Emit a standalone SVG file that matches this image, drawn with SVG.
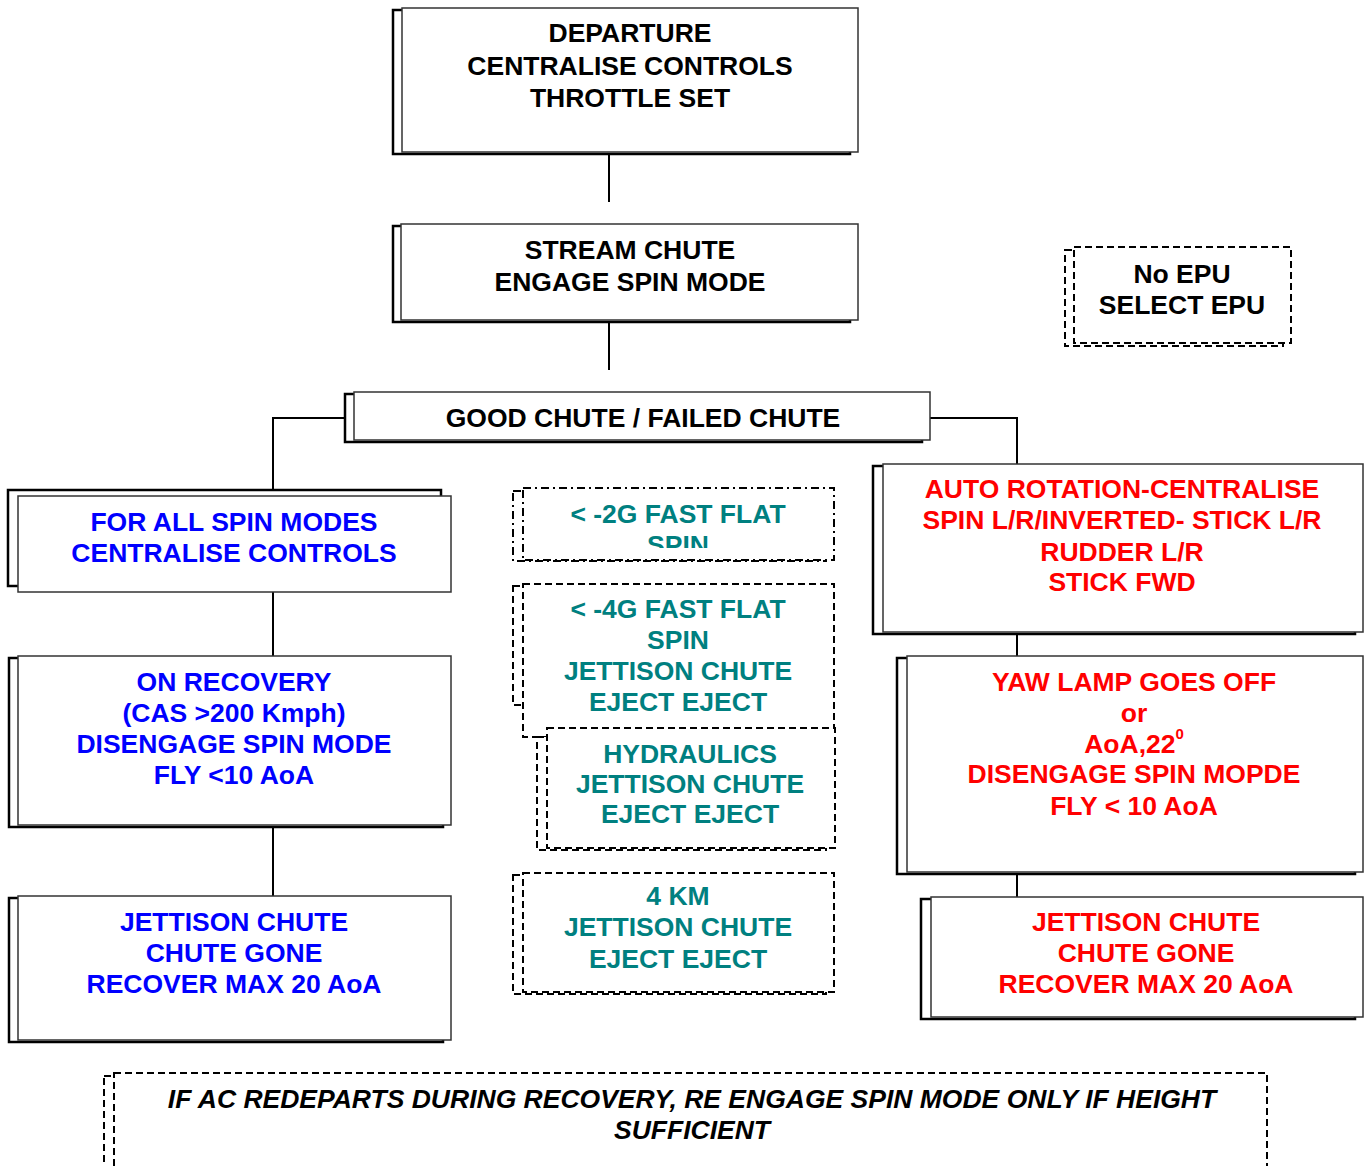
<svg xmlns="http://www.w3.org/2000/svg" width="1370" height="1166" viewBox="0 0 1370 1166">
<style>
text{font-family:"Liberation Sans",Arial,sans-serif;font-weight:bold;font-size:26.5px;text-anchor:middle}
.k{fill:#000}.b{fill:#0000FF}.r{fill:#FF0000}.t{fill:#008080}
.bk{fill:#fff;stroke:#000;stroke-width:2.5}
.fr{fill:#fff;stroke:#333;stroke-width:1.5}
.db{fill:#fff;stroke:#000;stroke-width:2;stroke-dasharray:7,4}
.dd{fill:#fff;stroke:#000;stroke-width:2;stroke-dasharray:8,4,2,4}
.ln{fill:none;stroke:#000;stroke-width:2}
</style>
<defs><clipPath id="c2g"><rect x="520" y="488" width="320" height="60"/></clipPath></defs>
<rect width="1370" height="1166" fill="#fff"/>
<g id="connectors">
<path class="ln" d="M609 154V202M609 322V370M345 418H273V490M930 418H1017V464M273 592V656M273 827V896M1017 634V656M1017 874V897"/>
</g>
<g id="departure">
<rect class="bk" x="393" y="10" width="457" height="144"/>
<rect class="fr" x="402" y="8" width="456" height="144"/>
<text class="k" x="630" y="42">DEPARTURE</text>
<text class="k" x="630" y="75">CENTRALISE CONTROLS</text>
<text class="k" x="630" y="107">THROTTLE SET</text>
</g>
<g id="stream">
<rect class="bk" x="393" y="226" width="457" height="96"/>
<rect class="fr" x="401" y="224" width="457" height="96"/>
<text class="k" x="630" y="259">STREAM CHUTE</text>
<text class="k" x="630" y="291">ENGAGE SPIN MODE</text>
</g>
<g id="noepu">
<rect class="db" x="1065" y="250" width="218" height="96"/>
<rect class="db" x="1074" y="247" width="217" height="96"/>
<text class="k" x="1182" y="283">No EPU</text>
<text class="k" x="1182" y="314">SELECT EPU</text>
</g>
<g id="good">
<rect class="bk" x="345" y="394" width="577" height="48"/>
<rect class="fr" x="354" y="392" width="576" height="48"/>
<text class="k" x="643" y="427">GOOD CHUTE / FAILED CHUTE</text>
</g>
<g id="forall">
<rect class="bk" x="8" y="490" width="433" height="96"/>
<rect class="fr" x="18" y="496" width="433" height="96"/>
<text class="b" x="234" y="531">FOR ALL SPIN MODES</text>
<text class="b" x="234" y="562">CENTRALISE CONTROLS</text>
</g>
<g id="onrecovery">
<rect class="bk" x="9" y="658" width="434" height="169"/>
<rect class="fr" x="18" y="656" width="433" height="169"/>
<text class="b" x="234" y="691">ON RECOVERY</text>
<text class="b" x="234" y="722">(CAS &gt;200 Kmph)</text>
<text class="b" x="234" y="753">DISENGAGE SPIN MODE</text>
<text class="b" x="234" y="784">FLY &lt;10 AoA</text>
</g>
<g id="jettblue">
<rect class="bk" x="9" y="898" width="434" height="144"/>
<rect class="fr" x="18" y="896" width="433" height="144"/>
<text class="b" x="234" y="931">JETTISON CHUTE</text>
<text class="b" x="234" y="962">CHUTE GONE</text>
<text class="b" x="234" y="993">RECOVER MAX 20 AoA</text>
</g>
<g id="g2">
<rect class="dd" x="513" y="491" width="313" height="70"/>
<rect class="dd" x="523" y="488" width="311" height="72"/>
<g clip-path="url(#c2g)">
<text class="t" x="678" y="523">&lt; -2G FAST FLAT</text>
<text class="t" x="678" y="554">SPIN</text>
</g>
</g>
<g id="g4">
<rect class="db" x="513" y="586" width="313" height="119"/>
<rect class="db" x="523" y="584" width="311" height="153"/>
<text class="t" x="678" y="618">&lt; -4G FAST FLAT</text>
<text class="t" x="678" y="649">SPIN</text>
<text class="t" x="678" y="680">JETTISON CHUTE</text>
<text class="t" x="678" y="711">EJECT EJECT</text>
</g>
<g id="hydraulics">
<rect class="db" x="537" y="737" width="289" height="113"/>
<rect class="db" x="547" y="728" width="288" height="120"/>
<text class="t" x="690" y="763">HYDRAULICS</text>
<text class="t" x="690" y="793">JETTISON CHUTE</text>
<text class="t" x="690" y="823">EJECT EJECT</text>
</g>
<g id="km4">
<rect class="db" x="513" y="875" width="313" height="119"/>
<rect class="db" x="523" y="873" width="311" height="119"/>
<text class="t" x="678" y="905">4 KM</text>
<text class="t" x="678" y="936">JETTISON CHUTE</text>
<text class="t" x="678" y="968">EJECT EJECT</text>
</g>
<g id="auto">
<rect class="bk" x="873" y="466" width="482" height="168"/>
<rect class="fr" x="883" y="464" width="480" height="168"/>
<text class="r" x="1122" y="498">AUTO ROTATION-CENTRALISE</text>
<text class="r" x="1122" y="529">SPIN L/R/INVERTED- STICK L/R</text>
<text class="r" x="1122" y="561">RUDDER L/R</text>
<text class="r" x="1122" y="591">STICK FWD</text>
</g>
<g id="yaw">
<rect class="bk" x="897" y="658" width="458" height="216"/>
<rect class="fr" x="907" y="656" width="456" height="216"/>
<text class="r" x="1134" y="691">YAW LAMP GOES OFF</text>
<text class="r" x="1134" y="722">or</text>
<text class="r" x="1134" y="753">AoA,22<tspan font-size="15" dy="-14">0</tspan></text>
<text class="r" x="1134" y="783">DISENGAGE SPIN MOPDE</text>
<text class="r" x="1134" y="815">FLY &lt; 10 AoA</text>
</g>
<g id="jettred">
<rect class="bk" x="921" y="899" width="434" height="120"/>
<rect class="fr" x="931" y="897" width="432" height="120"/>
<text class="r" x="1146" y="931">JETTISON CHUTE</text>
<text class="r" x="1146" y="962">CHUTE GONE</text>
<text class="r" x="1146" y="993">RECOVER MAX 20 AoA</text>
</g>
<g id="note">
<rect class="db" x="104" y="1076" width="1155" height="120"/>
<rect class="db" x="114" y="1073" width="1153" height="120"/>
<text class="k" font-style="italic" x="692" y="1108">IF AC REDEPARTS DURING RECOVERY, RE ENGAGE SPIN MODE ONLY IF HEIGHT</text>
<text class="k" font-style="italic" x="692" y="1139">SUFFICIENT</text>
</g>
</svg>
